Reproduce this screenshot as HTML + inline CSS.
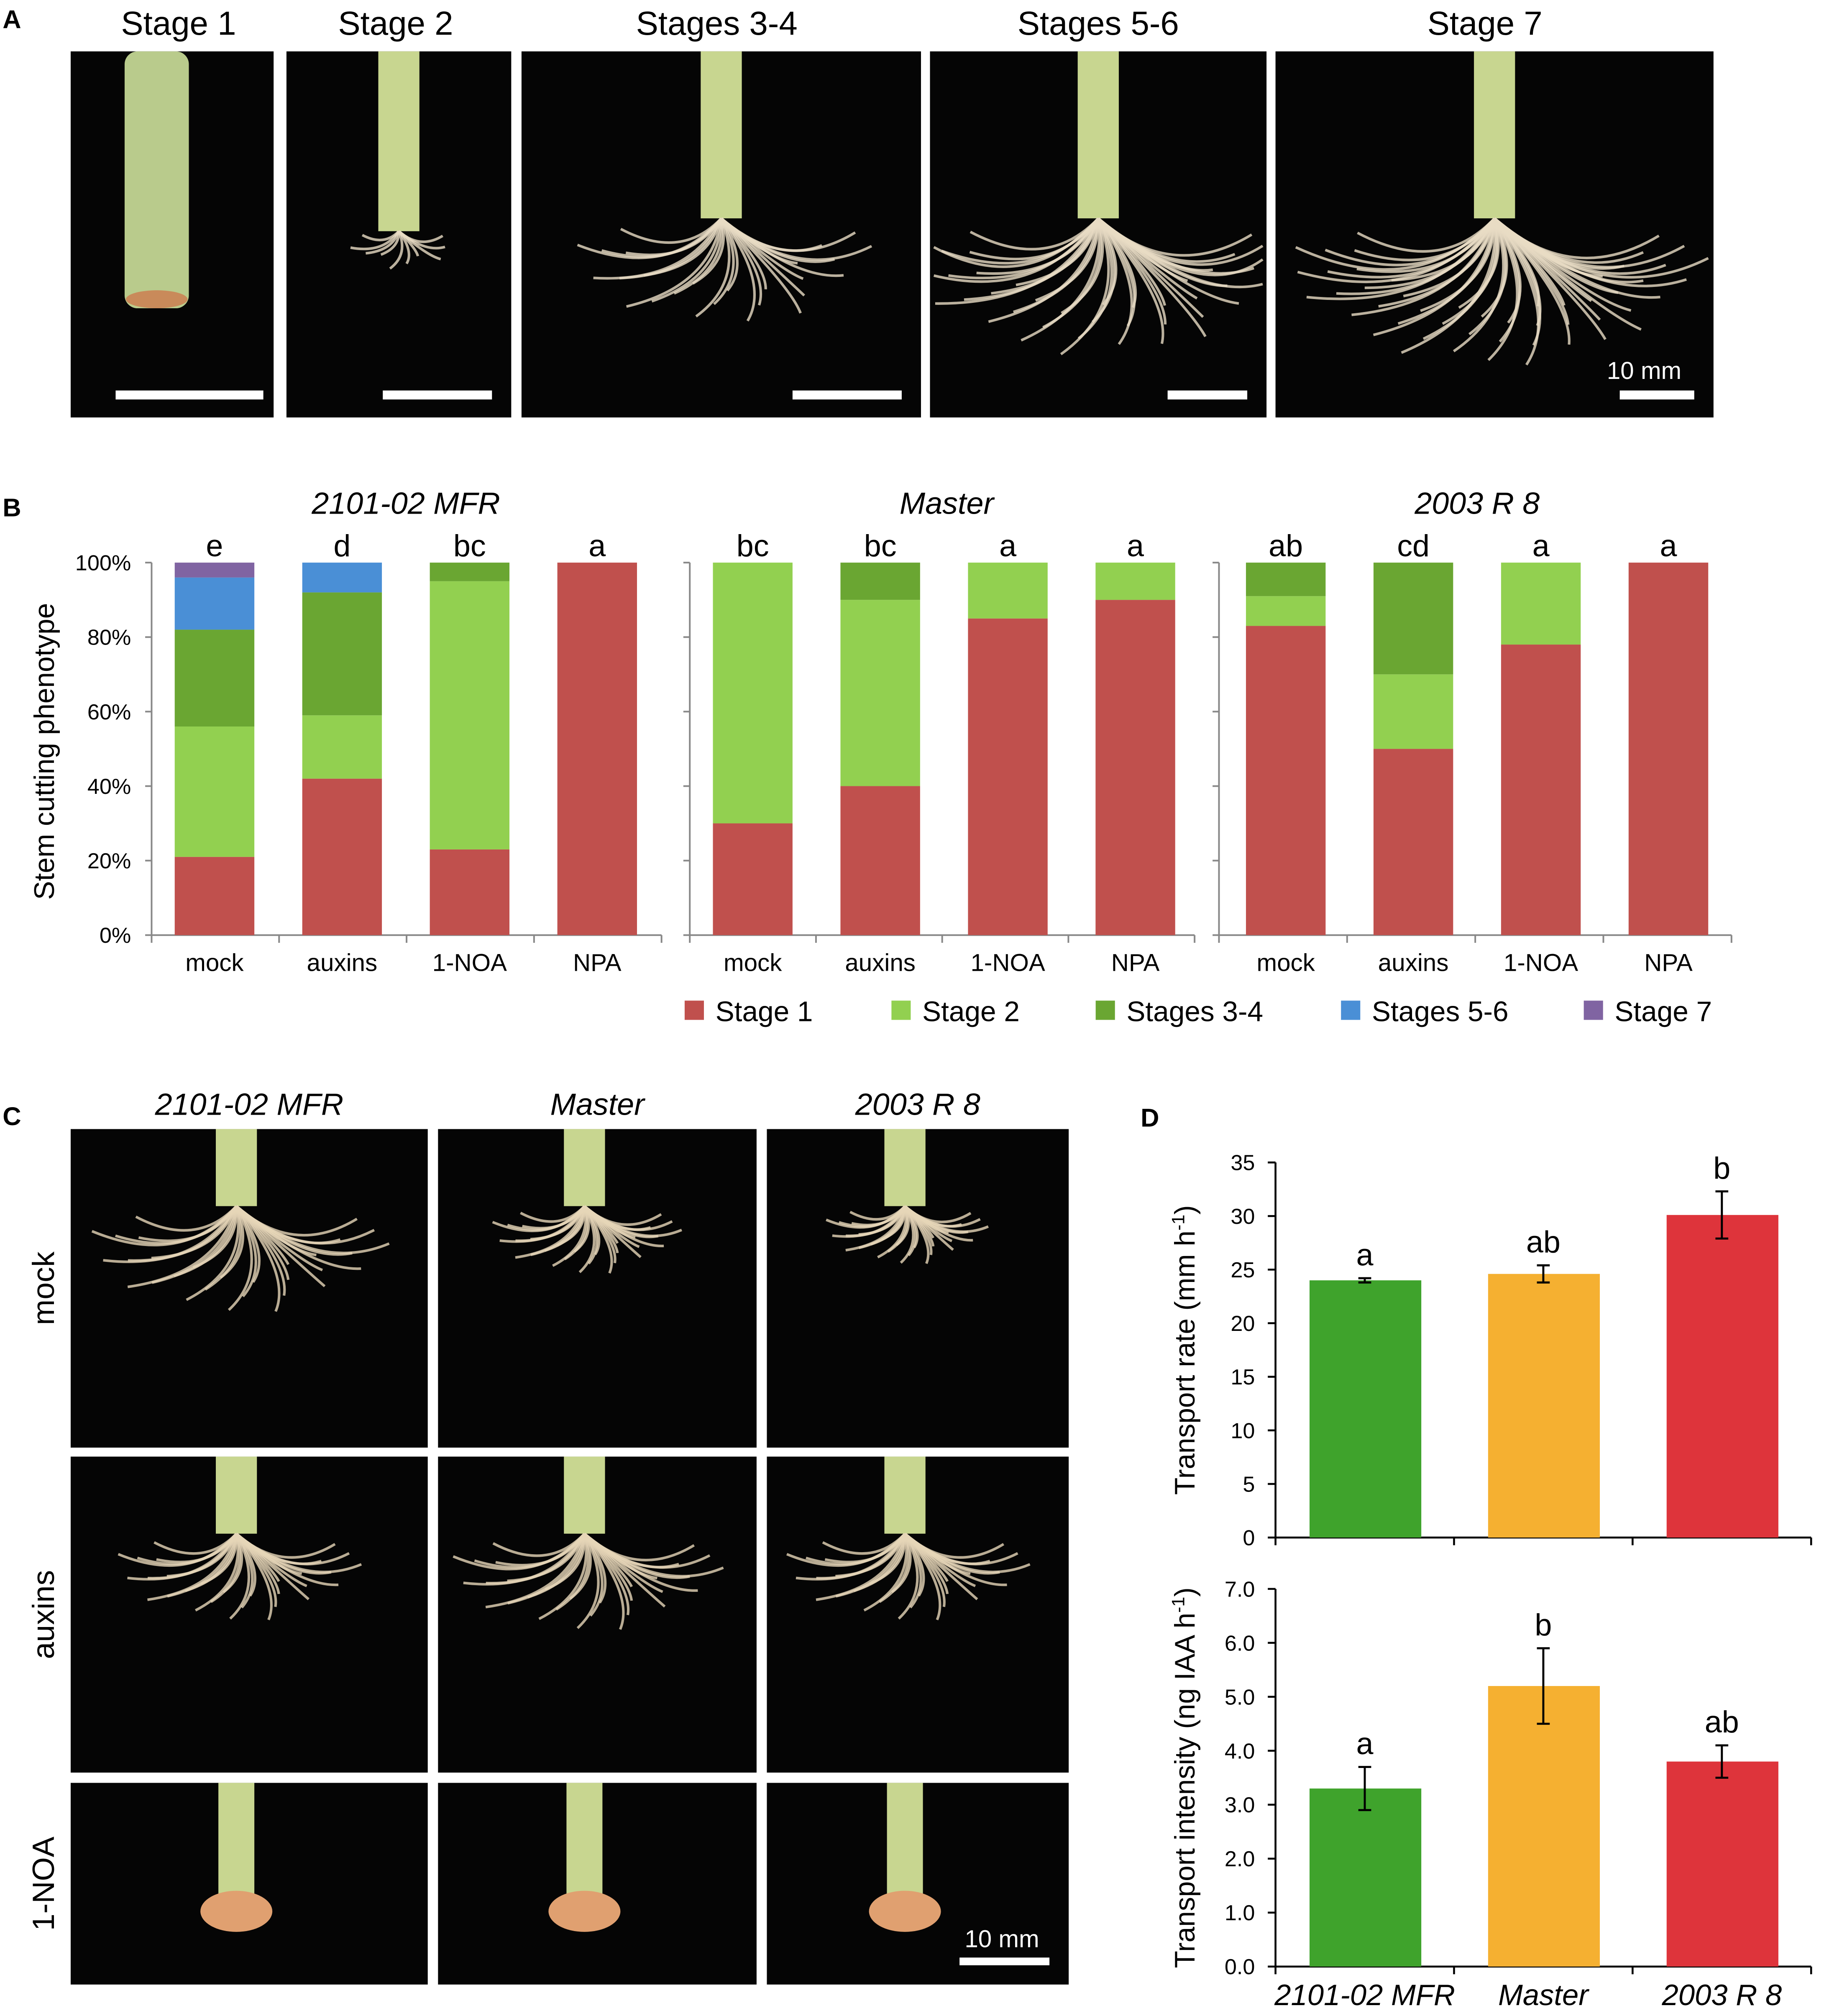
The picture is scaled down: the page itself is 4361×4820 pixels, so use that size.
<!DOCTYPE html>
<html><head><meta charset="utf-8"><style>
html,body{margin:0;padding:0;background:#fff;}
svg{display:block;font-family:"Liberation Sans",sans-serif;}
</style></head><body>
<svg id="fig" width="4361" height="4820" viewBox="0 0 1420 1569.5" xmlns="http://www.w3.org/2000/svg">
<rect width="1420" height="1570" fill="#fff"/>
<g id="panelA"></g>
<g id="panelB"></g>
<g id="panelC"></g>
<g id="panelD"></g>
</svg>
<script>
// ---- Panel B data ----
const bGroups = ["2101-02 MFR","Master","2003 R 8"];
const bCategories = ["mock","auxins","1-NOA","NPA"];
const stageNames = ["Stage 1","Stage 2","Stages 3-4","Stages 5-6","Stage 7"];
const stageColors = ["#c0504d","#92d050","#6aa632","#4a8fd6","#8064a2"];
const g1Stage1 = [21,42,23,100];
const g1Stage2 = [35,17,72,0];
const g1Stage34 = [26,33,5,0];
const g1Stage56 = [14,8,0,0];
const g1Stage7 = [4,0,0,0];
const g2Stage1 = [30,40,85,90];
const g2Stage2 = [70,50,15,10];
const g2Stage34 = [0,10,0,0];
const g2Stage56 = [0,0,0,0];
const g2Stage7 = [0,0,0,0];
const g3Stage1 = [83,50,78,100];
const g3Stage2 = [8,20,22,0];
const g3Stage34 = [9,30,0,0];
const g3Stage56 = [0,0,0,0];
const g3Stage7 = [0,0,0,0];
const bLetters = [["e","d","bc","a"],["bc","bc","a","a"],["ab","cd","a","a"]];
const bTicks = ["0%","20%","40%","60%","80%","100%"];
// ---- Panel D data ----
const dCategories = ["2101-02 MFR","Master","2003 R 8"];
const rateValues = [24.0,24.6,30.1];
const rateErrors = [0.2,0.8,2.2];
const rateLetters = ["a","ab","b"];
const rateTicks = [0,5,10,15,20,25,30,35];
const intensityValues = [3.3,5.2,3.8];
const intensityErrors = [0.4,0.7,0.3];
const intensityLetters = ["a","b","ab"];
const intensityTicks = [0,1,2,3,4,5,6,7];
const dColors = ["#3fa32c","#f5b031","#de343b"];

const NS="http://www.w3.org/2000/svg";
function mk(parent,tag,attrs,text){const e=document.createElementNS(NS,tag);for(const k in attrs)e.setAttribute(k,attrs[k]);if(text!==undefined)e.textContent=text;parent.appendChild(e);return e;}

// ---- Panel A ----
const A=document.getElementById('panelA');
let t=mk(A,'text',{x:2,y:22,'font-size':20,'font-weight':'bold'},'A');


const photosA=[[55,158,"Stage 1",139,115],[223,175,"Stage 2",308,85],[406,311,"Stages 3-4",558,85],[724,262,"Stages 5-6",855,62],[993,341,"Stage 7",1156,58]];
function roots(g,x,y,w,h,cx,topY,spread,n,col){
  mk(g,'rect',{x:cx-16,y:y,width:32,height:topY-y,fill:'#c8d690'});
  for(let i=0;i<n;i++){
    const a=(i/(n-1)-0.5)*Math.PI*0.9;
    const len=spread*(0.6+0.4*((i*37)%10)/10);
    const ex=cx+Math.sin(a)*len*1.2, ey=topY+Math.cos(a)*len*0.8;
    const mx=cx+Math.sin(a+0.5)*len*0.6, my=topY+len*0.5;
    mk(g,'path',{d:`M${cx} ${topY} Q${mx} ${my} ${Math.max(x+3,Math.min(x+w-3,ex))} ${Math.min(y+h-3,ey)}`,stroke:col,'stroke-width':2,fill:'none',opacity:0.8});
  }
}
photosA.forEach((p,i)=>{
  const g=mk(A,'g',{});
  
  
  mk(g,'rect',{x:p[0],y:40,width:p[1],height:285,fill:'#050505'});
  const cx=p[0]+p[1]/2;
  if(i===0){mk(g,'rect',{x:97,y:40,width:50,height:200,rx:10,fill:'#b9cb8c'});mk(g,'ellipse',{cx:122,cy:233,rx:24,ry:7,fill:'#c98a5a'});}
  else roots(g,p[0],40,p[1],285,cx,i==1?180:170,[0,40,110,140,150][i],[0,10,26,40,50][i],'#e9dcc4');
  const bx=i==0?90:p[0]+p[1]-p[4]-15;
  mk(g,'rect',{x:bx,y:304,width:p[4],height:7,fill:'#fff'});
  const tt=mk(A,'text',{x:p[3],y:27,'font-size':26,'text-anchor':'middle'},p[2]);
  
  
});
t=mk(A,'text',{x:1280,y:295,'font-size':19,fill:'#fff','text-anchor':'middle'},'10 mm');



// ---- Panel B ----
const B=document.getElementById('panelB');
t=mk(B,'text',{x:2,y:402,'font-size':20,'font-weight':'bold'},'B');


const allData=[[g1Stage1,g1Stage2,g1Stage34,g1Stage56,g1Stage7],[g2Stage1,g2Stage2,g2Stage34,g2Stage56,g2Stage7],[g3Stage1,g3Stage2,g3Stage34,g3Stage56,g3Stage7]];
const y0B=728,y100B=438;
const yB=v=>y0B-(v/100)*(y0B-y100B);
const gX=[[118,515,167],[537,930,586],[949,1348,1001]];
const bStep=99.3;
t=mk(B,'text',{x:0,y:0,'font-size':22,'text-anchor':'middle',transform:`translate(42,585) rotate(-90)`},'Stem cutting phenotype');


bTicks.forEach((lab,i)=>{
  const tt=mk(B,'text',{x:102,y:yB(i*20)+6,'font-size':17,'text-anchor':'end'},lab);
  
  
});
allData.forEach((grp,gi)=>{
  const [ax0,ax1,c0]=gX[gi];
  const ga=mk(B,'g',{});
  
  
  mk(ga,'line',{x1:ax0,y1:y100B,x2:ax0,y2:y0B,stroke:'#888','stroke-width':1.3});
  mk(ga,'line',{x1:ax0,y1:y0B,x2:ax1,y2:y0B,stroke:'#888','stroke-width':1.3});
  for(let k=0;k<=5;k++)mk(ga,'line',{x1:ax0-5,y1:yB(k*20),x2:ax0,y2:yB(k*20),stroke:'#888','stroke-width':1.3});
  for(let k=0;k<=4;k++){const xx=ax0+k*(ax1-ax0)/4;mk(ga,'line',{x1:xx,y1:y0B,x2:xx,y2:y0B+6,stroke:'#888','stroke-width':1.3});}
  const tt=mk(B,'text',{x:[316,737,1150][gi],y:400,'font-size':24,'font-style':'italic','text-anchor':'middle'},bGroups[gi]);
  
  
  bCategories.forEach((cat,ci)=>{
    const cx=c0+ci*bStep;
    let cum=0;
    grp.forEach((ser,si)=>{
      const v=ser[ci]; if(v<=0)return;
      const r=mk(ga,'rect',{x:cx-31,y:yB(cum+v),width:62,height:yB(cum)-yB(cum+v),fill:stageColors[si]});
      
      
      cum+=v;
    });
    const xl=mk(ga,'text',{x:cx,y:756,'font-size':19,'text-anchor':'middle'},cat);
    
    
    const le=mk(ga,'text',{x:cx,y:433,'font-size':24,'text-anchor':'middle'},bLetters[gi][ci]);
    
    
  });
});
const legX=[533,694,853,1044,1233];
stageNames.forEach((s,i)=>{
  const lg=mk(B,'g',{});
  
  
  mk(lg,'rect',{x:legX[i],y:779,width:15,height:15,fill:stageColors[i]});
  mk(lg,'text',{x:legX[i]+24,y:795,'font-size':22},s);
});

// ---- Panel C ----
const C=document.getElementById('panelC');
t=mk(C,'text',{x:2,y:876,'font-size':20,'font-weight':'bold'},'C');


const colsC=[[55,278],[341,248],[597,235]];
const rowsC=[[879,248],[1134,246],[1388,157]];
const rowNames=["mock","auxins","1-NOA"];
bGroups.forEach((gname,ci)=>{
  const tt=mk(C,'text',{x:colsC[ci][0]+colsC[ci][1]/2,y:868,'font-size':24,'font-style':'italic','text-anchor':'middle'},gname);
  
  
});
rowNames.forEach((rn,ri)=>{
  const tt=mk(C,'text',{x:0,y:0,'font-size':24,'text-anchor':'middle',transform:`translate(42,${rowsC[ri][0]+rowsC[ri][1]/2}) rotate(-90)`},rn);
  
  
  colsC.forEach((c,ci)=>{
    const g=mk(C,'g',{});
    
    
    mk(g,'rect',{x:c[0],y:rowsC[ri][0],width:c[1],height:rowsC[ri][1],fill:'#050505'});
    const cx=c[0]+c[1]/2-10;
    if(ri<2) roots(g,c[0],rowsC[ri][0],c[1],rowsC[ri][1],cx,rowsC[ri][0]+60,[110,70,60,90,100,90][ri*3+ci]||90,30,'#e6d6b8');
    else {mk(g,'rect',{x:cx-14,y:rowsC[ri][0],width:28,height:100,fill:'#c8d690'});mk(g,'ellipse',{cx:cx,cy:rowsC[ri][0]+100,rx:28,ry:16,fill:'#e0a070'});}
  });
});
mk(C,'rect',{x:747,y:1524,width:70,height:6,fill:'#fff'});
t=mk(C,'text',{x:780,y:1516,'font-size':19,fill:'#fff','text-anchor':'middle'},'10 mm');



// ---- Panel D ----
const D=document.getElementById('panelD');
t=mk(D,'text',{x:888,y:877,'font-size':20,'font-weight':'bold'},'D');


const axX=993, axR=1410;
const dStep=(axR-axX)/3;
function drawD(vals,errs,lets,ticks,y0,yTop,maxV,title,fmt,nm,showX){
  const ys=v=>y0-(v/maxV)*(y0-yTop);
  const g=mk(D,'g',{});
  
  
  mk(g,'line',{x1:axX,y1:yTop,x2:axX,y2:y0,stroke:'#000','stroke-width':1.5});
  mk(g,'line',{x1:axX,y1:y0,x2:axR,y2:y0,stroke:'#000','stroke-width':1.5});
  ticks.forEach(tv=>{
    mk(g,'line',{x1:axX-6,y1:ys(tv),x2:axX,y2:ys(tv),stroke:'#000','stroke-width':1.5});
    const tl=mk(g,'text',{x:axX-16,y:ys(tv)+6,'font-size':17,'text-anchor':'end'},fmt(tv));
    
    
  });
  for(let k=0;k<=3;k++)mk(g,'line',{x1:axX+k*dStep,y1:y0,x2:axX+k*dStep,y2:y0+6,stroke:'#000','stroke-width':1.5});
  vals.forEach((v,i)=>{
    const cx=axX+dStep*(i+0.5);
    const r=mk(g,'rect',{x:cx-43,y:ys(v),width:87,height:y0-ys(v),fill:dColors[i]});
    
    
    const e=errs[i];
    mk(g,'path',{d:`M${cx} ${ys(v+e)}V${ys(v-e)}M${cx-5} ${ys(v+e)}H${cx+5}M${cx-5} ${ys(v-e)}H${cx+5}`,stroke:'#000','stroke-width':1.6,fill:'none'});
    const lt=mk(g,'text',{x:cx,y:ys(v+e)-10,'font-size':24,'text-anchor':'middle'},lets[i]);
    
    
    if(showX){const xl=mk(g,'text',{x:cx,y:y0+30,'font-size':23,'font-style':'italic','text-anchor':'middle'},dCategories[i]);
      
      }
  });
  const yt=mk(g,'text',{x:0,y:0,'font-size':22,'text-anchor':'middle',transform:`translate(930,${(y0+yTop)/2}) rotate(-90)`});
  
  
  yt.innerHTML=title;
}
drawD(rateValues,rateErrors,rateLetters,rateTicks,1197,905,35,'Transport rate (mm h<tspan dy="-8" font-size="14">-1</tspan><tspan dy="8">)</tspan>',v=>String(v),'transport-rate-chart',false);
drawD(intensityValues,intensityErrors,intensityLetters,intensityTicks,1531,1237,7,'Transport intensity (ng IAA h<tspan dy="-8" font-size="14">-1</tspan><tspan dy="8">)</tspan>',v=>v.toFixed(1),'transport-intensity-chart',true);
</script>
</body></html>
